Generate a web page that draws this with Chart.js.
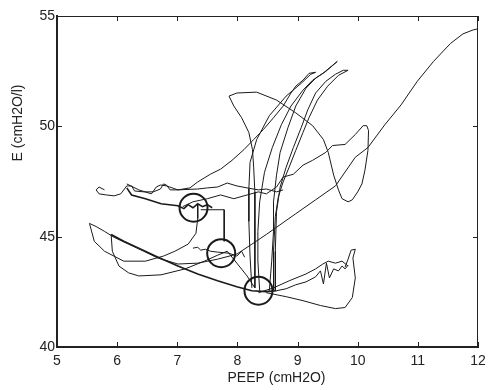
<!DOCTYPE html>
<html>
<head>
<meta charset="utf-8">
<script src="https://cdn.jsdelivr.net/npm/chart.js@4"></script>
<style>
  html, body { margin: 0; padding: 0; background: #fff; }
  #wrap { width: 494px; height: 390px; }
</style>
</head>
<body>
<div id="wrap"><canvas id="peepChart"></canvas></div>
<script>
// PEEP (cmH2O) vs E (cmH2O/l) trajectories
const xTicks = [5, 6, 7, 8, 9, 10, 11, 12];
const yTicks = [40, 45, 50, 55];

// circle 1 -> right lobe -> hump -> down to circle 3
const trackLobe = [[7.09,46.36],[7.26,46.58],[7.50,46.72],[7.72,46.89],[7.94,46.72],[8.16,46.89],[8.35,47.03],[8.48,46.94],[8.65,47.25],[8.76,47.70],[8.93,47.83],[9.09,48.24],[9.25,48.46],[9.47,48.82],[9.58,49.13],[9.79,49.18],[9.96,49.63],[10.09,50.03],[10.15,50.03],[10.18,49.81],[10.17,48.91],[10.12,48.01],[10.07,47.39],[10.00,47.03],[9.91,46.67],[9.84,46.58],[9.74,46.72],[9.68,47.12],[9.60,47.79],[9.51,48.82],[9.43,49.40],[9.25,50.03],[8.97,50.61],[8.65,51.19],[8.32,51.55],[7.99,51.51],[7.86,51.37],[7.94,50.92],[8.07,50.39],[8.19,49.72],[8.25,48.95],[8.27,48.15],[8.29,47.03],[8.29,45.24],[8.29,43.89],[8.29,42.68]];

// upper-left wiggle -> long arc -> hook -> first finger down
const trackArc = [[5.79,47.12],[5.70,47.25],[5.65,47.12],[5.70,46.94],[5.82,46.89],[5.95,46.85],[6.06,46.94],[6.16,47.30],[6.24,47.30],[6.29,47.07],[6.44,47.03],[6.60,47.03],[6.72,47.16],[6.77,47.39],[6.82,47.34],[6.88,47.12],[7.01,47.12],[7.21,47.21],[7.34,47.48],[7.55,47.83],[7.72,48.06],[7.91,48.46],[8.11,48.95],[8.27,49.40],[8.43,49.85],[8.60,50.39],[8.76,50.92],[8.89,51.51],[8.97,51.82],[9.09,52.09],[9.19,52.40],[9.30,52.45],[9.22,52.36],[9.06,51.95],[8.81,51.37],[8.53,50.48],[8.32,49.40],[8.21,48.37],[8.19,47.16],[8.19,45.69],[8.21,44.12],[8.24,42.68]];

const fingerTwo = [[8.37,42.55],[8.34,43.89],[8.34,45.24],[8.37,46.58],[8.45,47.92],[8.58,49.04],[8.73,50.07],[8.89,50.92],[9.09,51.64],[9.25,52.09],[9.42,52.40],[9.66,52.94],[9.47,52.49],[9.30,52.18],[9.14,51.73],[8.97,50.92],[8.84,49.94],[8.71,48.82],[8.65,47.79],[8.60,46.58],[8.60,45.24],[8.57,43.89],[8.53,42.55]];

const fingerThree = [[8.60,42.55],[8.60,44.34],[8.63,45.91],[8.68,46.80],[8.76,47.48],[8.86,48.15],[8.97,48.91],[9.09,49.72],[9.19,50.39],[9.33,51.19],[9.50,51.82],[9.68,52.31],[9.84,52.54],[9.76,52.54],[9.63,52.36],[9.47,52.04],[9.30,51.51],[9.17,50.75],[9.06,49.94],[8.93,49.04],[8.81,48.15],[8.71,47.25],[8.65,46.13],[8.63,44.34],[8.63,42.55]];

const wiggleUpper = [[6.16,47.39],[6.36,47.12],[6.57,46.94],[6.65,47.25],[6.72,47.34],[6.82,47.30],[7.01,47.12],[7.34,47.16],[7.50,47.21],[7.67,47.25],[7.83,47.43],[7.99,47.30],[8.16,47.21],[8.35,47.12],[8.48,47.16],[8.65,47.03],[8.76,47.12]];

// heavy line into circle 1
const heavyUpper = [[6.16,47.21],[6.24,46.89],[6.47,46.72],[6.73,46.49],[7.01,46.40],[7.11,46.27],[7.18,46.45],[7.26,46.31],[7.34,46.49],[7.42,46.36],[7.50,46.45],[7.58,46.31]];

// circle 1 down, left loop, then the long diagonal to the top right
const trackDiagonal = [[7.34,46.45],[7.34,45.82],[7.31,45.15],[7.18,44.66],[6.96,44.34],[6.77,44.12],[6.47,43.89],[6.11,43.89],[5.79,44.34],[5.62,44.79],[5.54,45.60],[5.65,45.46],[5.79,45.24],[5.95,44.97],[6.19,44.66],[6.44,44.34],[6.68,44.03],[7.01,43.76],[7.34,43.80],[7.67,43.98],[7.99,44.21],[8.24,44.66],[8.48,45.10],[8.97,46.04],[9.30,46.67],[9.63,47.30],[9.96,48.60],[10.17,49.04],[10.45,50.07],[10.72,50.97],[10.99,52.04],[11.26,52.94],[11.54,53.75],[11.75,54.19],[11.92,54.37],[12.00,54.42]];

const loopLower = [[5.90,45.10],[5.92,44.34],[6.03,43.67],[6.19,43.36],[6.36,43.22],[6.73,43.27],[7.13,43.54],[7.45,43.89],[7.67,44.16],[7.83,44.34],[7.99,43.80],[8.16,43.22],[8.29,42.68]];

// heavy line from the left into circle 3
const heavyLower = [[5.90,45.10],[6.11,44.79],[6.36,44.48],[6.68,44.07],[7.01,43.67],[7.34,43.31],[7.67,43.00],[7.99,42.73],[8.24,42.55],[8.48,42.51],[8.65,42.55]];

// noisy band right of circle 3
const noisyBand = [[8.65,42.55],[8.81,42.64],[8.97,42.82],[9.14,42.95],[9.30,43.18],[9.38,43.45],[9.43,42.86],[9.48,43.80],[9.53,43.13],[9.60,43.54],[9.68,43.45],[9.74,43.67],[9.79,43.54],[9.84,43.71]];

const loopRight = [[8.48,42.46],[8.81,42.28],[9.09,42.10],[9.38,41.88],[9.63,41.74],[9.79,41.79],[9.91,42.24],[9.96,43.13],[9.92,44.03],[9.96,44.43],[9.89,44.39],[9.84,43.98],[9.79,43.62]];

const noisyRight = [[8.35,42.46],[8.60,42.68],[8.86,43.00],[9.14,43.31],[9.30,43.54],[9.42,43.76],[9.51,43.89],[9.63,43.80],[9.74,43.89],[9.84,43.67]];

const stepDown = [[7.39,46.22],[7.78,46.22],[7.78,44.79]];
const tailMid = [[7.26,44.48],[7.34,44.52],[7.39,44.39],[7.47,44.43],[7.55,44.34],[7.67,44.30],[7.86,44.25],[7.99,44.12],[8.07,44.34],[8.12,44.07]];

const circleCentres = [[7.27,46.31],[7.73,44.25],[8.35,42.55]];

const toXY = arr => arr.map(p => ({ x: p[0], y: p[1] }));

function track(data, width) {
  return {
    type: 'scatter',
    data: toXY(data),
    showLine: true,
    borderColor: '#1a1a1a',
    borderWidth: width || 1,
    pointRadius: 0,
    tension: 0,
    fill: false
  };
}

const datasets = [
  track(trackLobe), track(trackArc), track(fingerTwo), track(fingerThree),
  track(wiggleUpper), track(heavyUpper, 1.6), track(trackDiagonal), track(loopLower),
  track(heavyLower, 1.6), track(noisyBand), track(loopRight), track(noisyRight),
  track(stepDown), track(tailMid),
  {
    type: 'scatter',
    data: toXY(circleCentres),
    showLine: false,
    pointRadius: 14,
    pointStyle: 'circle',
    pointBackgroundColor: 'rgba(0,0,0,0)',
    pointBorderColor: '#1a1a1a',
    pointBorderWidth: 2
  }
];

const FONT = '"Liberation Sans", Arial, sans-serif';

// MATLAB-like box: inward ticks on all sides plus axis titles
const boxPlugin = {
  id: 'boxPlugin',
  afterDraw(chart) {
    const { ctx, chartArea: a, scales: { x, y } } = chart;
    ctx.save();
    ctx.strokeStyle = '#222';
    ctx.lineWidth = 1;
    ctx.beginPath();
    ctx.moveTo(a.left, a.top + 0.5); ctx.lineTo(a.right, a.top + 0.5);
    ctx.moveTo(a.right - 0.5, a.top); ctx.lineTo(a.right - 0.5, a.bottom);
    x.ticks.forEach(t => {
      const px = Math.round(x.getPixelForValue(t.value)) + 0.5;
      ctx.moveTo(px, a.bottom); ctx.lineTo(px, a.bottom - 5);
      ctx.moveTo(px, a.top); ctx.lineTo(px, a.top + 5);
    });
    y.ticks.forEach(t => {
      const py = Math.round(y.getPixelForValue(t.value)) + 0.5;
      ctx.moveTo(a.left, py); ctx.lineTo(a.left + 5, py);
      ctx.moveTo(a.right, py); ctx.lineTo(a.right - 5, py);
    });
    ctx.stroke();

    ctx.fillStyle = '#222';
    ctx.font = '14px ' + FONT;
    ctx.textAlign = 'center';
    ctx.textBaseline = 'middle';
    ctx.fillText('PEEP (cmH2O)', (a.left + a.right) / 2 + 9, a.bottom + 31);
    ctx.translate(18, a.top + 107);
    ctx.rotate(-Math.PI / 2);
    ctx.fillText('E (cmH2O/l)', 0, 0);
    ctx.restore();
  }
};

new Chart(document.getElementById('peepChart'), {
  type: 'scatter',
  data: { datasets },
  options: {
    responsive: true,
    maintainAspectRatio: false,
    animation: false,
    layout: { padding: { left: 0, right: 9, top: 12, bottom: 0 } },
    plugins: { legend: { display: false }, tooltip: { enabled: false } },
    scales: {
      x: {
        min: 5, max: 12,
        afterBuildTicks: s => { s.ticks = xTicks.map(v => ({ value: v })); },
        afterFit: s => { s.height = 43; },
        grid: { display: false, drawTicks: false },
        border: { color: '#222', width: 2 },
        ticks: { color: '#222', padding: 6, font: { family: FONT, size: 14 } }
      },
      y: {
        min: 40, max: 55,
        afterBuildTicks: s => { s.ticks = yTicks.map(v => ({ value: v })); },
        afterFit: s => { s.width = 57; },
        grid: { display: false, drawTicks: false },
        border: { color: '#222', width: 2 },
        ticks: { color: '#222', padding: 2, font: { family: FONT, size: 14 } }
      }
    }
  },
  plugins: [boxPlugin]
});
</script>
</body>
</html>
